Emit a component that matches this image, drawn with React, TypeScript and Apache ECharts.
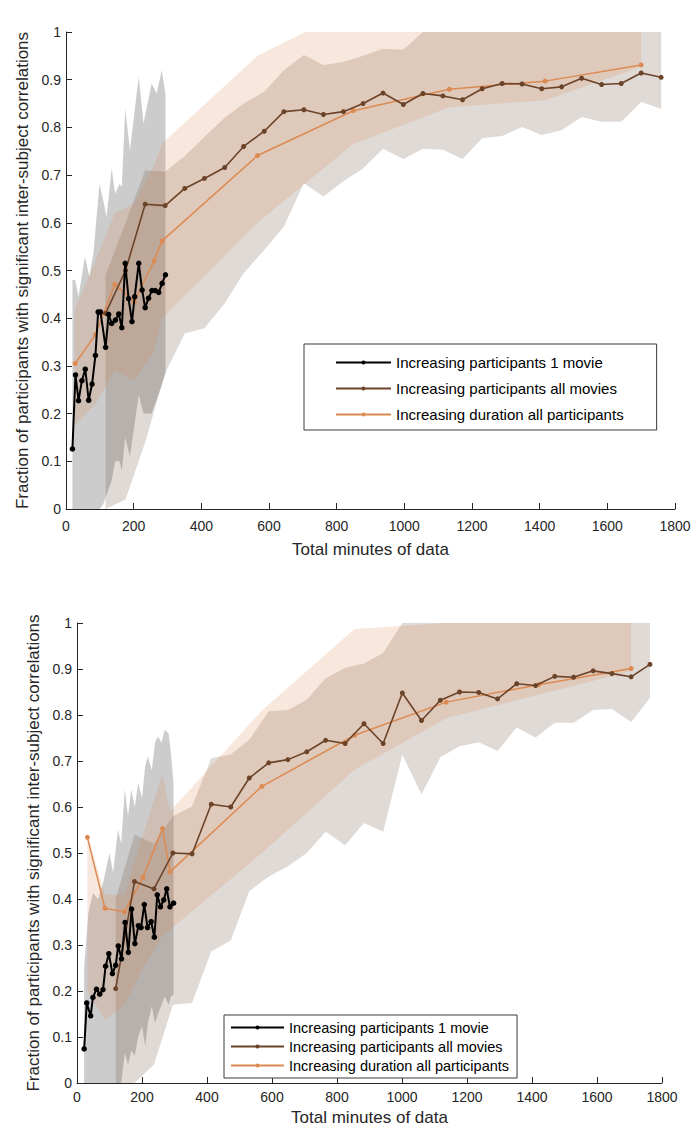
import React, { useEffect, useRef } from "react";
import * as echarts from "echarts";

// ---------- TOP PANEL DATA ----------
const topBlackX = [19, 28, 37, 47, 57, 67, 77, 87, 95, 102, 117, 126, 135, 146, 156, 165, 175, 185, 195, 203, 215, 225, 234, 244, 254, 264, 274, 284, 294];
const topBlackY = [0.126, 0.281, 0.227, 0.269, 0.293, 0.228, 0.262, 0.322, 0.413, 0.413, 0.339, 0.408, 0.389, 0.396, 0.409, 0.38, 0.515, 0.441, 0.393, 0.445, 0.515, 0.459, 0.422, 0.442, 0.458, 0.458, 0.454, 0.473, 0.491];

const topBrownX = [117, 176, 234, 293, 351, 409, 469, 525, 586, 644, 703, 761, 820, 878, 937, 997, 1055, 1114, 1172, 1230, 1289, 1348, 1406, 1465, 1524, 1583, 1641, 1700, 1759];
const topBrownY = [0.41, 0.5, 0.639, 0.636, 0.672, 0.693, 0.716, 0.76, 0.792, 0.833, 0.837, 0.827, 0.833, 0.85, 0.872, 0.848, 0.871, 0.866, 0.858, 0.881, 0.892, 0.891, 0.881, 0.885, 0.903, 0.89, 0.892, 0.914, 0.905];

const topOrangeX = [27, 87, 144, 202, 260, 284, 566, 849, 1133, 1416, 1700];
const topOrangeY = [0.305, 0.365, 0.471, 0.435, 0.52, 0.562, 0.741, 0.835, 0.88, 0.897, 0.931];

const topGrayBandX = [19, 27, 37, 56, 69, 81, 99, 110, 120, 135, 145, 158, 165, 175, 189, 215, 229, 253, 268, 283, 294];
const topGrayBandHi = [0.48, 0.48, 0.445, 0.529, 0.487, 0.536, 0.682, 0.647, 0.612, 0.714, 0.661, 0.682, 0.675, 0.839, 0.752, 0.906, 0.808, 0.892, 0.871, 0.92, 0.87];
const topGrayBandLo = [0, 0, 0, 0, 0, 0, 0, 0.01, 0.03, 0.06, 0.1, 0.1, 0.08, 0.15, 0.11, 0.24, 0.2, 0.2, 0.23, 0.26, 0.285];

const topBrownBandHi = [0.49, 0.6, 0.71, 0.707, 0.74, 0.78, 0.82, 0.85, 0.875, 0.92, 0.952, 0.931, 0.937, 0.95, 0.965, 0.963, 1, 1, 1, 1, 1, 1, 1, 1, 1, 1, 1, 1, 1];
const topBrownBandLo = [0, 0.02, 0.14, 0.285, 0.368, 0.379, 0.431, 0.494, 0.543, 0.592, 0.683, 0.655, 0.687, 0.714, 0.755, 0.734, 0.755, 0.753, 0.734, 0.777, 0.782, 0.801, 0.784, 0.794, 0.822, 0.812, 0.812, 0.853, 0.839];

const topOrangeBandHi = [0.42, 0.52, 0.62, 0.64, 0.72, 0.766, 0.95, 1.05, 1, 1, 1];
const topOrangeBandLo = [0.175, 0.22, 0.29, 0.27, 0.33, 0.4, 0.6, 0.765, 0.842, 0.857, 0.927];

// ---------- BOTTOM PANEL DATA ----------
const botBlackX = [22, 30, 42, 49, 60, 70, 80, 88, 98, 109, 119, 127, 137, 148, 158, 168, 178, 189, 197, 207, 217, 228, 238, 247, 257, 267, 276, 286, 297];
const botBlackY = [0.074, 0.174, 0.146, 0.186, 0.204, 0.193, 0.203, 0.254, 0.281, 0.238, 0.256, 0.298, 0.27, 0.349, 0.284, 0.378, 0.303, 0.342, 0.338, 0.388, 0.338, 0.351, 0.317, 0.409, 0.383, 0.398, 0.422, 0.383, 0.391];

const botBrownX = [119, 177, 237, 295, 354, 413, 473, 530, 590, 649, 707, 765, 825, 883, 942, 1001, 1060, 1118, 1177, 1236, 1294, 1353, 1411, 1470, 1528, 1588, 1646, 1705, 1763];
const botBrownY = [0.205, 0.438, 0.422, 0.5, 0.498, 0.606, 0.6, 0.663, 0.696, 0.703, 0.72, 0.745, 0.738, 0.781, 0.738, 0.848, 0.788, 0.832, 0.85, 0.849, 0.835, 0.868, 0.864, 0.884, 0.882, 0.896, 0.89, 0.883, 0.91];

const botOrangeX = [32, 86, 146, 203, 263, 286, 569, 854, 1136, 1420, 1705];
const botOrangeY = [0.534, 0.38, 0.372, 0.447, 0.553, 0.459, 0.645, 0.756, 0.828, 0.866, 0.901];

const botGrayBandX = [22, 35, 49, 65, 80, 100, 111, 126, 136, 147, 157, 167, 178, 188, 200, 210, 218, 230, 240, 249, 260, 270, 282, 290, 297];
const botGrayBandHi = [0.25, 0.37, 0.413, 0.4, 0.435, 0.5, 0.457, 0.551, 0.52, 0.638, 0.58, 0.638, 0.6, 0.652, 0.62, 0.69, 0.71, 0.68, 0.74, 0.753, 0.74, 0.768, 0.76, 0.71, 0.65];
const botGrayBandLo = [0, 0, 0, 0, 0, 0, 0, 0, 0, 0.065, 0.04, 0.07, 0.06, 0.1, 0.123, 0.08, 0.13, 0.167, 0.13, 0.15, 0.17, 0.188, 0.17, 0.19, 0.19];

const botBrownBandHi = [0.4, 0.54, 0.52, 0.58, 0.601, 0.706, 0.714, 0.746, 0.808, 0.811, 0.833, 0.88, 0.902, 0.912, 0.935, 1, 1, 1, 1, 1, 1, 1, 1, 1, 1, 1, 1, 1, 1];
const botBrownBandLo = [0, 0, 0.04, 0.17, 0.174, 0.286, 0.31, 0.417, 0.449, 0.471, 0.5, 0.546, 0.517, 0.565, 0.546, 0.714, 0.627, 0.708, 0.732, 0.741, 0.722, 0.773, 0.751, 0.783, 0.783, 0.811, 0.813, 0.785, 0.837];

const botOrangeBandHi = [0.54, 0.41, 0.41, 0.54, 0.67, 0.59, 0.81, 0.987, 1, 1, 1];
const botOrangeBandLo = [0.2, 0.138, 0.17, 0.25, 0.32, 0.333, 0.5, 0.681, 0.793, 0.844, 0.895];

// ---------- LABELS ----------
const seriesNames = [
  "Increasing participants 1 movie",
  "Increasing participants all movies",
  "Increasing duration all participants",
];
const xAxisName = "Total minutes of data";
const yAxisName = "Fraction of participants with significant inter-subject correlations";

const FONT = "'Liberation Sans', Arial, Helvetica, sans-serif";
const AX = "#262626";
const C_BLACK = "#000000";
const C_BROWN = "#6b4329";
const C_ORANGE = "#dd8a52";
const F_GRAY = "rgba(128,128,128,0.4)";
const F_BROWN = "rgba(100,70,50,0.2)";
const F_ORANGE = "rgba(217,137,79,0.2)";

function band(gridIdx: number, xs: number[], lo: number[], hi: number[], fill: string, z: number) {
  return {
    type: "custom",
    xAxisIndex: gridIdx,
    yAxisIndex: gridIdx,
    clip: true,
    silent: true,
    z,
    data: xs.map((x, i) => [x, lo[i], hi[i]]),
    encode: { x: 0, y: [1, 2] },
    renderItem: (params: any, api: any) => {
      if (params.dataIndex !== 0) return null;
      const pts: number[][] = [];
      for (let i = 0; i < xs.length; i++) pts.push(api.coord([xs[i], hi[i]]));
      for (let i = xs.length - 1; i >= 0; i--) pts.push(api.coord([xs[i], lo[i]]));
      return { type: "polygon", shape: { points: pts }, style: { fill, stroke: "none" } };
    },
  };
}

function line(gridIdx: number, name: string, xs: number[], ys: number[], color: string, width: number, size: number, z: number) {
  return {
    type: "line",
    name,
    xAxisIndex: gridIdx,
    yAxisIndex: gridIdx,
    data: xs.map((x, i) => [x, ys[i]]),
    symbol: "circle",
    symbolSize: size,
    showSymbol: true,
    lineStyle: { color, width },
    itemStyle: { color },
    z,
  };
}

function xAxis(gridIndex: number, gap: number, labelMargin: number) {
  return {
    type: "value",
    gridIndex,
    min: 0,
    max: 1800,
    interval: 200,
    axisLine: { show: true, onZero: false, lineStyle: { color: AX, width: 1 } },
    axisTick: { show: true, inside: true, length: 6, lineStyle: { color: AX } },
    axisLabel: {
      color: AX,
      fontSize: 14,
      fontFamily: FONT,
      margin: labelMargin,
      showMaxLabel: true,
      formatter: (v: number) => String(v),
    },
    splitLine: { show: false },
    name: xAxisName,
    nameLocation: "middle",
    nameGap: gap,
    nameTextStyle: { color: AX, fontSize: 17, fontFamily: FONT },
  };
}

function yAxis(gridIndex: number, gap: number) {
  return {
    type: "value",
    gridIndex,
    min: 0,
    max: 1,
    interval: 0.1,
    axisLine: { show: true, onZero: false, lineStyle: { color: AX, width: 1 } },
    axisTick: { show: true, inside: true, length: 6, lineStyle: { color: AX } },
    axisLabel: { color: AX, fontSize: 14, fontFamily: FONT, margin: 5 },
    splitLine: { show: false },
    name: yAxisName,
    nameLocation: "middle",
    nameGap: gap,
    nameTextStyle: { color: AX, fontSize: 17, fontFamily: FONT },
  };
}

export default function App() {
  const ref = useRef<HTMLDivElement>(null);
  useEffect(() => {
    document.body.style.margin = "0";
    if (!ref.current) return;
    const chart = echarts.init(ref.current, undefined, { renderer: "svg" });
    const option: any = {
      animation: false,
      backgroundColor: "#ffffff",
      grid: [
        { left: 66, top: 32, width: 609, height: 477 },
        { left: 77, top: 623, width: 585, height: 460 },
      ],
      xAxis: [xAxis(0, 32, 10), xAxis(1, 26, 7)],
      yAxis: [yAxis(0, 35), yAxis(1, 33)],
      legend: [
        {
          data: seriesNames,
          orient: "vertical",
          left: 304,
          top: 344,
          itemWidth: 55,
          itemHeight: 5,
          itemGap: 11,
          itemTextGap: 6,
          padding: [11, 33, 8, 31],
          borderColor: "#3a3a3a",
          borderWidth: 1,
          backgroundColor: "#ffffff",
          selectedMode: false,
          textStyle: { color: "#000", fontSize: 15, fontFamily: FONT },
        },
        {
          data: seriesNames,
          orient: "vertical",
          left: 224,
          top: 1015,
          itemWidth: 53,
          itemHeight: 5,
          itemGap: 4,
          itemTextGap: 6,
          padding: [5, 8, 5, 6],
          borderColor: "#3a3a3a",
          borderWidth: 1,
          backgroundColor: "#ffffff",
          selectedMode: false,
          textStyle: { color: "#000", fontSize: 14.5, fontFamily: FONT },
        },
      ],
      series: [
        band(0, topGrayBandX, topGrayBandLo, topGrayBandHi, F_GRAY, 1),
        band(0, topBrownX, topBrownBandLo, topBrownBandHi, F_BROWN, 1),
        band(0, topOrangeX, topOrangeBandLo, topOrangeBandHi, F_ORANGE, 1),
        line(0, seriesNames[2], topOrangeX, topOrangeY, C_ORANGE, 1.5, 5, 3),
        line(0, seriesNames[1], topBrownX, topBrownY, C_BROWN, 1.6, 5, 4),
        line(0, seriesNames[0], topBlackX, topBlackY, C_BLACK, 2, 5.5, 5),
        band(1, botGrayBandX, botGrayBandLo, botGrayBandHi, F_GRAY, 1),
        band(1, botBrownX, botBrownBandLo, botBrownBandHi, F_BROWN, 1),
        band(1, botOrangeX, botOrangeBandLo, botOrangeBandHi, F_ORANGE, 1),
        line(1, seriesNames[2], botOrangeX, botOrangeY, C_ORANGE, 1.5, 5, 3),
        line(1, seriesNames[1], botBrownX, botBrownY, C_BROWN, 1.6, 5, 4),
        line(1, seriesNames[0], botBlackX, botBlackY, C_BLACK, 2, 5.5, 5),
      ],
    };
    chart.setOption(option);
    return () => chart.dispose();
  }, []);
  return <div ref={ref} style={{ width: 694, height: 1128 }} />;
}
